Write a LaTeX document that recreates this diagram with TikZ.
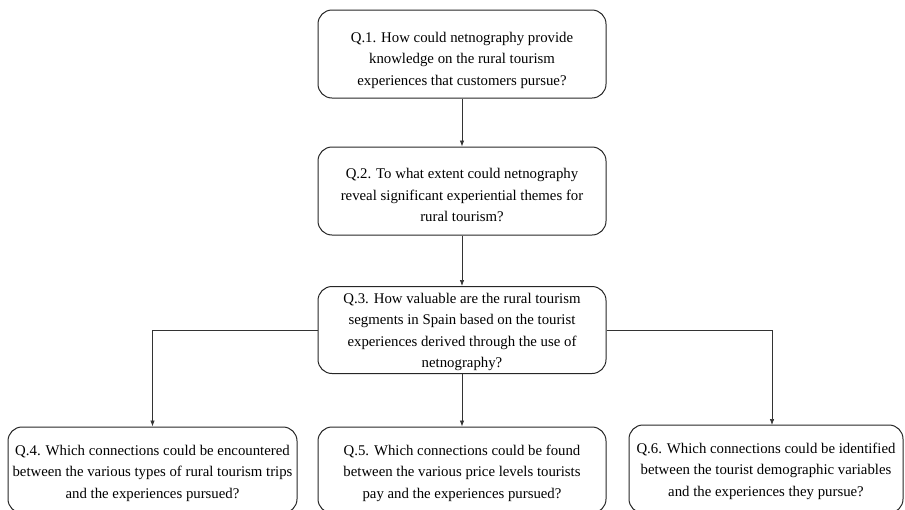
\documentclass[tikz,border=0pt]{standalone}
\usepackage{fontspec}
\setmainfont{Liberation Serif}
\usetikzlibrary{arrows.meta,calc}
\begin{document}
\begin{tikzpicture}[x=1pt,y=-1pt,
  qbox/.style={draw=black!85,line width=1pt,rounded corners=14pt,inner sep=0pt},
  qtxt/.style={align=center,font=\fontsize{14.8}{21.5}\selectfont,inner sep=0pt},
  conn/.style={draw=black!80,line width=0.7pt,-{Latex[length=6pt,width=4.5pt]}}]
\useasboundingbox (0,0) rectangle (905,509);
% boxes
\node[qbox,minimum width=288pt,minimum height=88pt] (q1) at (462,54) {};
\node[qbox,minimum width=288pt,minimum height=88pt] (q2) at (462,191) {};
\node[qbox,minimum width=288pt,minimum height=87pt] (q3) at (462,330) {};
\node[qbox,minimum width=289pt,minimum height=86pt] (q4) at (152.5,470) {};
\node[qbox,minimum width=288pt,minimum height=86pt] (q5) at (462,470) {};
\node[qbox,minimum width=274pt,minimum height=88pt] (q6) at (766,469) {};
% texts
\node[qtxt] (t1) at (462,60) {Q.1. How could netnography provide\\knowledge on the rural tourism\\experiences that customers pursue?};
\node[qtxt] (t2) at (462,195) {Q.2. To what extent could netnography\\reveal significant experiential themes for\\rural tourism?};
\node[qtxt] (t3) at (462,332) {Q.3. How valuable are the rural tourism\\segments in Spain based on the tourist\\experiences derived through the use of\\netnography?};
\node[qtxt] (t4) at (152.5,473) {Q.4. Which connections could be encountered\\between the various types of rural tourism trips\\and the experiences pursued?};
\node[qtxt] (t5) at (462,473) {Q.5. Which connections could be found\\between the various price levels tourists\\pay and the experiences pursued?};
\node[qtxt] (t6) at (766,471) {Q.6. Which connections could be identified\\between the tourist demographic variables\\and the experiences they pursue?};
% connectors
\coordinate (c6) at (772,425);
\draw[conn] (q1.south) -- (q2.north);
\draw[conn] (q2.south) -- (q3.north);
\draw[conn] (q3.south) -- (q5.north);
\draw[conn] (q3.west) -| (q4.north);
\draw[conn] (q3.east) -| (c6);
\end{tikzpicture}
\end{document}
